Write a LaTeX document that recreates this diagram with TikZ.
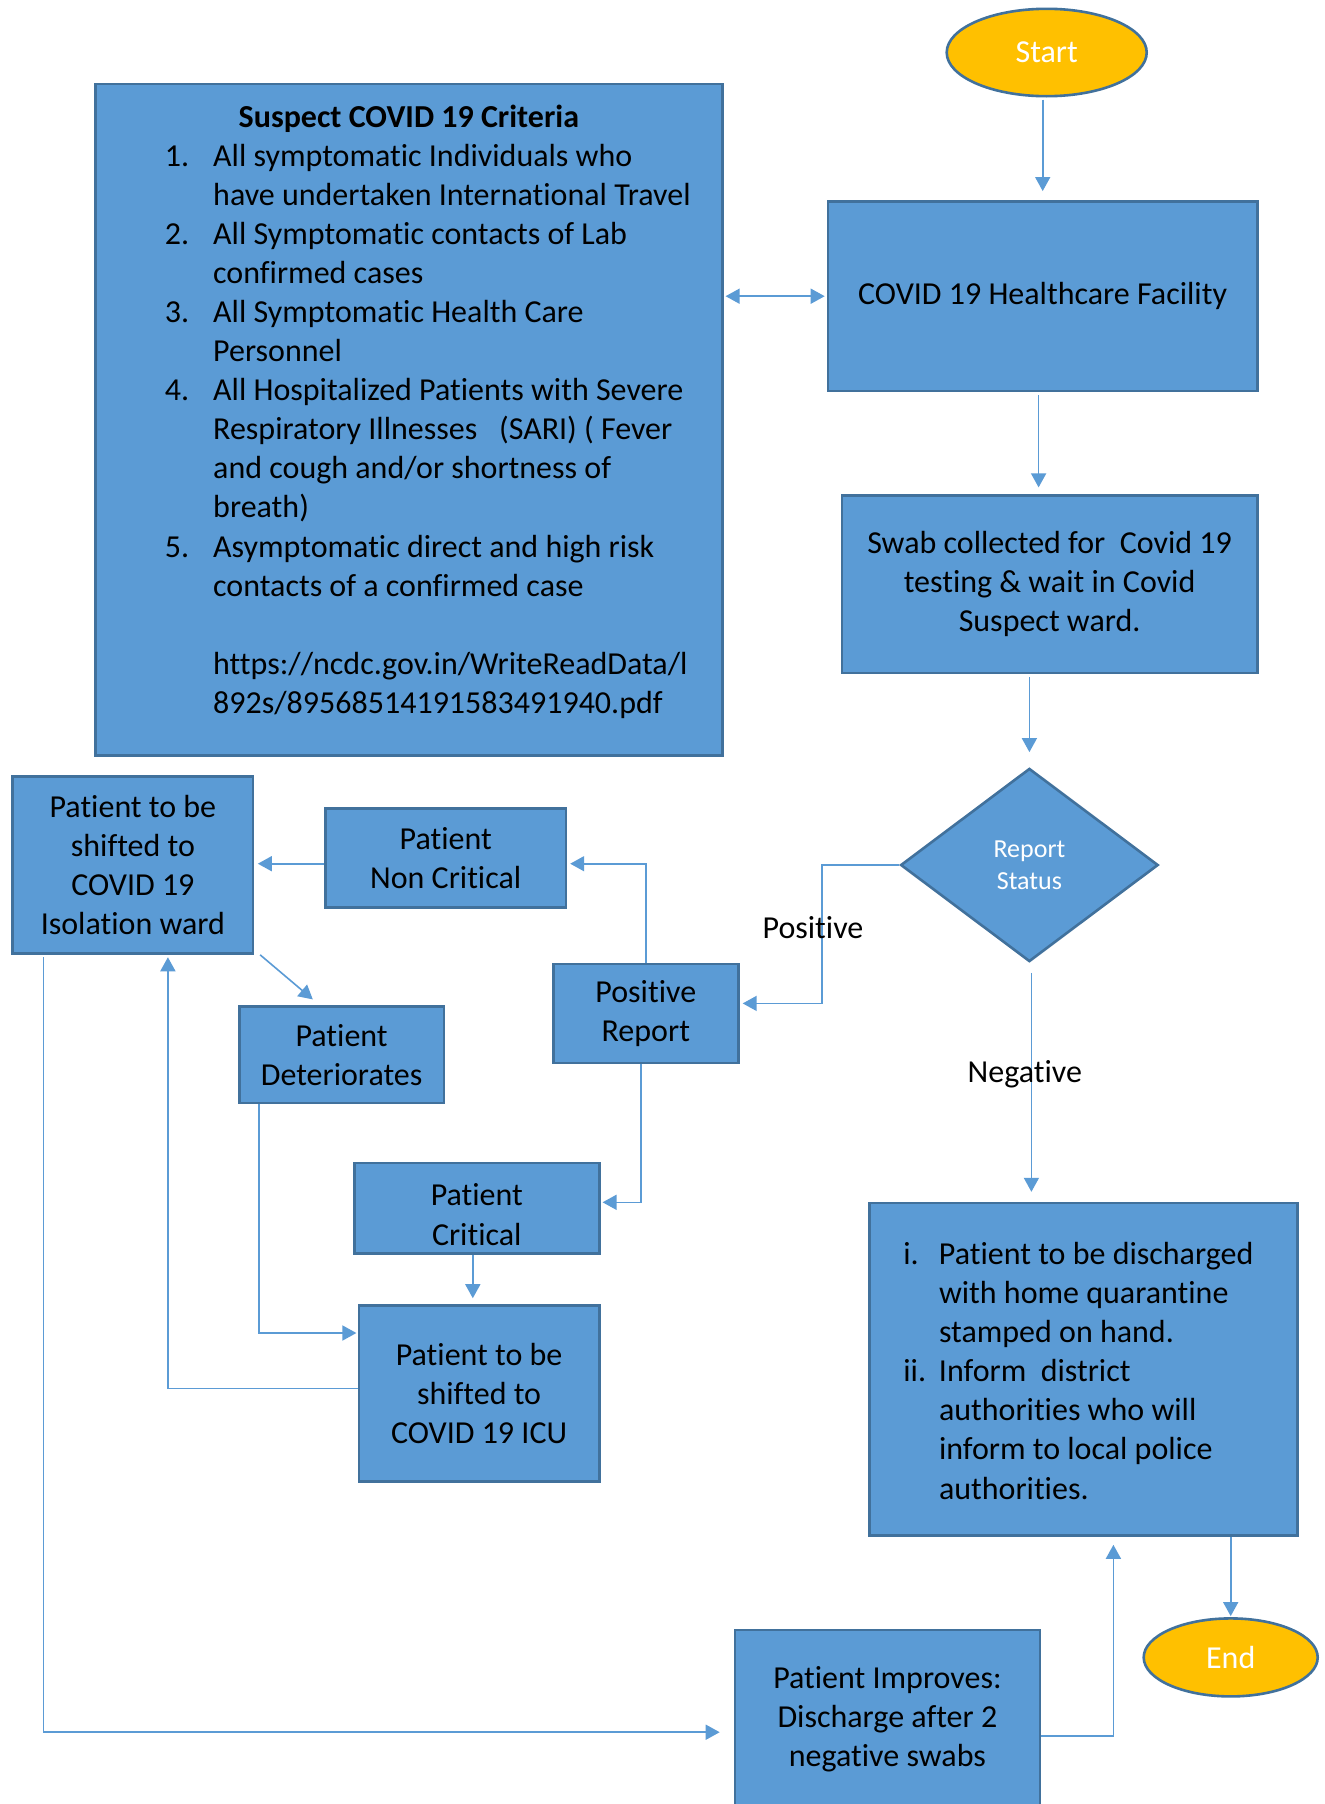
\documentclass[tikz,border=0pt]{standalone}
\usepackage{fontspec}
\setmainfont{Carlito}[RawFeature={-liga;-rlig;-clig;-calt;-dlig}]
\usetikzlibrary{shapes.geometric,arrows.meta,calc}
\definecolor{boxblue}{HTML}{5B9BD5}
\definecolor{boxedge}{HTML}{41719C}
\definecolor{startyel}{HTML}{FFC000}
\newcommand\fbody{\fontsize{16}{19.55}\selectfont}
\newcommand\fsmall{\fontsize{13}{16.1}\selectfont}
\begin{document}
\begin{tikzpicture}[x=0.5pt,y=-0.5pt,
  box/.style={draw=boxedge, line width=1.3pt, fill=boxblue, inner sep=0pt, align=center, font=\fbody, text=black},
  term/.style={ellipse, draw=boxedge, line width=1.3pt, fill=startyel, inner sep=0pt, font=\fbody, text=white},
  conn/.style={draw=boxblue, line width=0.8pt, -{Triangle[length=7pt,width=7.5pt]}},
  conn2/.style={draw=boxblue, line width=0.8pt, {Triangle[length=7pt,width=7.5pt]}-{Triangle[length=7pt,width=7.5pt]}},
  lbl/.style={font=\fbody, text=black, inner sep=0pt},
  txt/.style={font=\fbody, text=black, inner sep=0pt, align=center}]
\clip (0,0) rectangle (1325,1804);
\fill[white] (0,0) rectangle (1325,1804);

% nodes
\node[term, minimum width=100pt, minimum height=43.7pt] (start) at (1046.7,52.5) {Start};
\node[box, minimum width=313.4pt, minimum height=335.85pt] (crit) at (408.9,419.9) {};
\node[font=\fbody\bfseries, inner sep=0pt] (critT) at (408.9,118.5) {Suspect COVID 19 Criteria};
\node[anchor=north west, align=left, inner sep=0pt, font=\fbody] (critL) at (164.5,138.3) {\strut\makebox[24.15pt][l]{1.}All symptomatic Individuals who\\
\hspace*{24.15pt}have undertaken International Travel\\
\makebox[24.15pt][l]{2.}All Symptomatic contacts of Lab\\
\hspace*{24.15pt}confirmed cases\\
\makebox[24.15pt][l]{3.}All Symptomatic Health Care\\
\hspace*{24.15pt}Personnel\\
\makebox[24.15pt][l]{4.}All Hospitalized Patients with Severe\\
\hspace*{24.15pt}Respiratory Illnesses\ \ \ (SARI) ( Fever\\
\hspace*{24.15pt}and cough and/or shortness of\\
\hspace*{24.15pt}breath)\\
\makebox[24.15pt][l]{5.}Asymptomatic direct and high risk\\
\hspace*{24.15pt}contacts of a confirmed case\\[19.55pt]
\hspace*{24.15pt}https://ncdc.gov.in/WriteReadData/l\\
\hspace*{24.15pt}892s/89568514191583491940.pdf};

\node[box, minimum width=214.6pt, minimum height=94.85pt] (hc) at (1042.6,296.2) {COVID 19 Healthcare Facility};
\node[box, minimum width=207.6pt, minimum height=88.6pt] (swab) at (1049.6,584.3) {Swab collected for\ \ Covid 19\\testing \& wait in Covid\\Suspect ward.};
\node[diamond, aspect=1.333, draw=boxedge, line width=1.3pt, fill=boxblue, inner sep=0pt, minimum width=128.8pt, minimum height=96.6pt, align=center, font=\fsmall, text=white] (dia) at (1029.4,865) {Report\\Status};

\node[box, minimum width=120.15pt, minimum height=88.55pt] (iso) at (132.9,865) {Patient to be\\shifted to\\COVID 19\\Isolation ward};
\node[box, minimum width=120.2pt, minimum height=49.45pt] (nonc) at (445.7,858.1) {Patient\\Non Critical};
\node[box, minimum width=92.6pt, minimum height=49.45pt] (posr) at (645.8,1013.4) {Positive\\Report};
\node[box, minimum width=102.4pt, minimum height=48.3pt] (det) at (341.6,1054.7) {Patient\\Deteriorates};
\node[box, minimum width=122.5pt, minimum height=45.4pt] (crit2) at (476.8,1208.3) {};
\node[txt] (crit2T) at (476.8,1214.6) {Patient\\Critical};
\node[box, minimum width=120.2pt, minimum height=88pt] (icu) at (479.1,1393.5) {Patient to be\\shifted to\\COVID 19 ICU};

\node[box, minimum width=213.9pt, minimum height=166.2pt] (dis) at (1083.5,1369.3) {};
\node[anchor=north west, align=left, inner sep=0pt, font=\fbody] (disL) at (903,1236.7) {\strut\makebox[17.8pt][l]{i.}Patient to be discharged\\
\hspace*{17.8pt}with home quarantine\\
\hspace*{17.8pt}stamped on hand.\\
\makebox[17.8pt][l]{ii.}Inform\ \ district\\
\hspace*{17.8pt}authorities who will\\
\hspace*{17.8pt}inform to local police\\
\hspace*{17.8pt}authorities.};

\node[box, minimum width=152.4pt, minimum height=100.1pt] (imp) at (887.4,1729.9) {};
\node[txt] (impT) at (887.4,1719.5) {Patient Improves:\\Discharge after 2\\negative swabs};
\node[term, minimum width=87pt, minimum height=39pt] (end) at (1230.7,1657.4) {End};

% connectors
\draw[conn, shorten <=1pt, shorten >=4.5pt] ([xshift=-2pt]start.south) -- ([xshift=-2pt]start.south |- hc.north);
\draw[conn2, shorten <=1pt, shorten >=1pt] (crit.east |- hc.west) -- (hc.west);
\draw[conn, shorten <=1.5pt, shorten >=3.5pt] ([xshift=-2pt]hc.south) -- ([xshift=-2pt]hc.south |- swab.north);
\draw[conn, shorten <=1.5pt, shorten >=7.5pt] (dia.north |- swab.south) -- (dia.north);
\draw[conn, shorten >=1.5pt] (dia.west) -- ++(-77.1,0) |- ([yshift=5pt]posr.east);
\node[lbl] (lpos) at (813,928) {Positive};
\draw[conn, shorten <=5pt, shorten >=5pt] ([xshift=1pt]dia.south) -- ([xshift=1pt]dia.south |- dis.north);
\node[lbl] (lneg) at (1024.8,1074.3) {Negative};
\draw[conn, shorten >=1.5pt] (posr.north) |- ([yshift=-2.8pt]nonc.east);
\draw[conn, shorten >=1.75pt] ([yshift=-2.8pt]nonc.west) -- ([yshift=-2.8pt]nonc.west -| iso.east);
\draw[conn] ([xshift=2.9pt]iso.south east) -- ([xshift=-14.4pt,yshift=2.85pt]det.north);
\draw[conn, shorten >=1pt] ([xshift=-2.5pt]posr.south) |- ([yshift=3pt]crit2.east);
\draw[conn, shorten >=3pt] ([xshift=-2pt]crit2.south) -- ([xshift=-2pt]crit2.south |- icu.north);
\draw[conn, shorten >=0.6pt] ([xshift=10.4pt]det.south west) |- ([yshift=30.25pt]icu.west);
\draw[conn, shorten >=1.2pt] ([yshift=2.6pt]icu.west) -| ([xshift=17.5pt]iso.south);
\draw[conn, shorten >=7pt] ([xshift=16.1pt,yshift=-1.2pt]iso.south west) |- ([yshift=-1.15pt]imp.west);
\draw[conn, shorten >=4pt] ([yshift=-2.9pt]imp.east) -| ([xshift=14.95pt]dis.south);
\draw[conn, shorten >=0.5pt] (dis.south -| end.north) -- (end.north);
\end{tikzpicture}
\end{document}
